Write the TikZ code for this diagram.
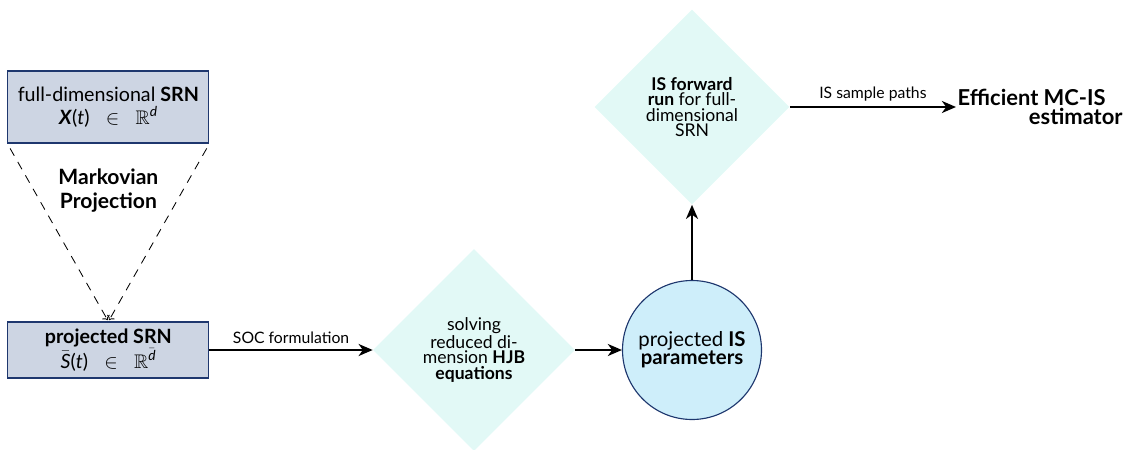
\documentclass[tikz,border=0pt]{standalone}
\usepackage{amsmath,amssymb}
\usepackage{fontspec}
\setmainfont{Lato}
\usetikzlibrary{shapes.geometric,positioning,arrows.meta}
\definecolor{srnfill}{RGB}{205,213,227}
\definecolor{srnline}{RGB}{30,55,110}
\definecolor{hjbfill}{RGB}{226,249,246}
\definecolor{isfill}{RGB}{206,238,250}
\begin{document}
\begin{tikzpicture}[node distance=3cm,on grid,auto,
    srn/.style={rectangle,draw=srnline,thick,fill=srnfill,minimum width=5.025cm,
      align=center,inner sep=2pt,font=\fontsize{14}{16}\selectfont},
    solver/.style={diamond,fill=hjbfill,aspect=1,inner sep=0pt,
      align=center,font=\fontsize{12.5}{11}\selectfont},
    param/.style={circle,draw=srnline,thick,fill=isfill,minimum size=3.475cm,
      align=center,font=\fontsize{14.5}{13}\selectfont},
    flow/.style={-{Stealth[length=10pt,width=8.5pt,inset=3pt]},line width=1.8pt},
    lbl/.style={font=\fontsize{11.2}{12}\selectfont}]
   \useasboundingbox (0,0) rectangle (28.2,-11.225);
   \node[srn,minimum height=1.8cm] (full) at (2.71,-2.675)
     {full-dimensional \textbf{SRN}\\
      $\text{\textbf{\textit{X}}(\textit{t})}\;\ \in\;\ \mathbb{R}^{\text{\textit{d}}}$};
   \node[srn,minimum height=1.4cm] (proj) [below=6.075cm of full]
     {\textbf{projected SRN}\\
      $\bar{\text{\textit{S}}}\text{(\textit{t})}\;\ \in\;\ \mathbb{R}^{\bar{\text{\textit{d}}}}$};
   \node[font=\bfseries\fontsize{15}{17}\selectfont,align=center] (mark) [below=2.1cm of full]
     {Markovian\\ Projection};
   \node[solver,minimum size=5.05cm] (hjb) [right=9.14cm of proj]
     {solving\\ reduced di-\\ mension \textbf{HJB}\\ \textbf{equations}};
   \node[param] (ispar) [right=5.45cm of hjb] {projected \textbf{IS}\\ \textbf{parameters}};
   \node[solver,minimum size=4.875cm] (fwd) [above=6.075cm of ispar]
     {\textbf{IS forward}\\ \textbf{run} for full-\\ dimensional\\ SRN};
   \coordinate (estx) at (23.9,0);
   \node[font=\bfseries\fontsize{15.6}{13}\selectfont,align=left,anchor=west,inner sep=1pt]
     (est) at (fwd -| estx) {Efficient MC-IS\\ \hspace*{1.78cm}estimator};
   \path[->,dashed,dash pattern=on 6pt off 5pt,semithick,shorten <=4pt,shorten >=1pt]
    (full.south west) edge (proj.north)
    (full.south east) edge (proj.north);
   \path[flow]
    (proj) edge node[lbl] {SOC formulation} (hjb)
    (hjb)  edge (ispar)
    (ispar) edge (fwd)
    (fwd)  edge node[lbl] {IS sample paths} (est.west |- fwd);
\end{tikzpicture}
\end{document}
